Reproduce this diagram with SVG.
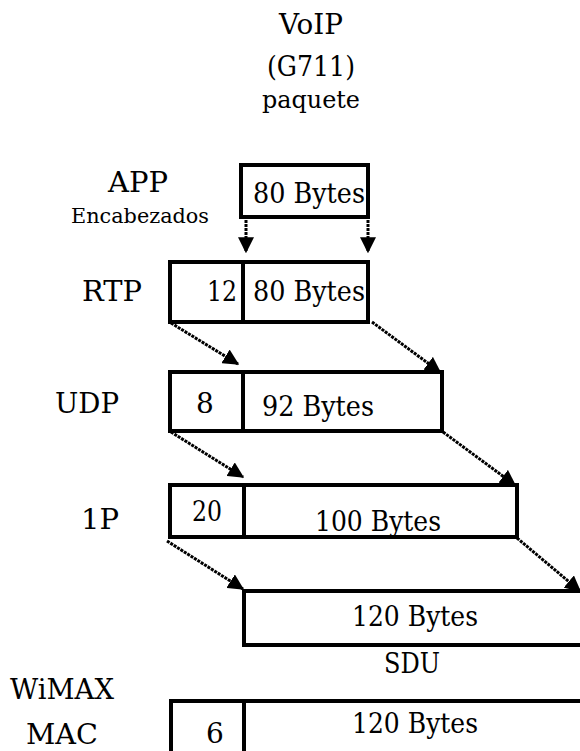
<svg xmlns="http://www.w3.org/2000/svg" width="580" height="751" viewBox="0 0 580 751" font-family="'DejaVu Serif', 'Liberation Serif', serif">
<defs>
<marker id="ah" viewBox="0 0 12 12" refX="11" refY="6" markerWidth="16" markerHeight="16" markerUnits="userSpaceOnUse" orient="auto">
<path d="M0,0 L12,6 L0,12 z" fill="#000"/>
</marker>
<style>
text{font-family:'DejaVu Serif','Liberation Serif',serif;fill:#000;}
.lb{font-size:28px;text-anchor:middle;}
.sm{font-size:24px;text-anchor:middle;}
.box{fill:#fff;stroke:#000;stroke-width:4;}
.div{stroke:#000;stroke-width:4;}
.con{stroke:#000;stroke-width:3;stroke-dasharray:3 1;fill:none;}
</style>
</defs>
<rect width="580" height="751" fill="#fff"/>
<g id="title">
<text class="lb" x="311" y="34" textLength="64" lengthAdjust="spacingAndGlyphs">VoIP</text>
<text class="lb" x="311" y="76" textLength="88" lengthAdjust="spacingAndGlyphs">(G711)</text>
<text class="sm" x="311" y="108" textLength="98" lengthAdjust="spacingAndGlyphs">paquete</text>
</g>
<g id="app">
<text class="lb" x="138" y="192" textLength="60" lengthAdjust="spacingAndGlyphs">APP</text>
<text x="140" y="223" style="font-size:21px;text-anchor:middle" textLength="138" lengthAdjust="spacingAndGlyphs">Encabezados</text>
<rect class="box" x="241" y="165" width="127" height="52"/>
<text class="lb" x="309" y="203" textLength="112" lengthAdjust="spacingAndGlyphs">80 Bytes</text>
</g>
<g id="rtp">
<text class="lb" x="112" y="301" textLength="60" lengthAdjust="spacingAndGlyphs">RTP</text>
<rect class="box" x="170" y="262" width="198" height="60"/>
<line class="div" x1="243" y1="262" x2="243" y2="322"/>
<text class="lb" x="237" y="301" style="text-anchor:end" textLength="30" lengthAdjust="spacingAndGlyphs">12</text>
<text class="lb" x="309" y="301" textLength="112" lengthAdjust="spacingAndGlyphs">80 Bytes</text>
</g>
<g id="udp">
<text class="lb" x="87" y="413" textLength="64" lengthAdjust="spacingAndGlyphs">UDP</text>
<rect class="box" x="170" y="372" width="272" height="59"/>
<line class="div" x1="243" y1="372" x2="243" y2="431"/>
<text class="lb" x="205" y="413">8</text>
<text class="lb" x="318" y="416" textLength="112" lengthAdjust="spacingAndGlyphs">92 Bytes</text>
</g>
<g id="ip">
<text class="lb" x="100" y="529" textLength="38" lengthAdjust="spacingAndGlyphs">1P</text>
<rect class="box" x="170" y="485" width="347" height="52"/>
<line class="div" x1="244" y1="485" x2="244" y2="537"/>
<text class="lb" x="207" y="521" textLength="30" lengthAdjust="spacingAndGlyphs">20</text>
<text class="lb" x="378" y="531" textLength="126" lengthAdjust="spacingAndGlyphs">100 Bytes</text>
</g>
<g id="sdu">
<rect class="box" x="244" y="591" width="350" height="54"/>
<text class="lb" x="415" y="626" textLength="126" lengthAdjust="spacingAndGlyphs">120 Bytes</text>
<text class="lb" x="412" y="673" textLength="56" lengthAdjust="spacingAndGlyphs">SDU</text>
</g>
<g id="mac">
<text class="lb" x="62" y="699" textLength="104" lengthAdjust="spacingAndGlyphs">WiMAX</text>
<text class="lb" x="62" y="744" textLength="72" lengthAdjust="spacingAndGlyphs">MAC</text>
<rect class="box" x="171" y="701" width="420" height="70"/>
<line class="div" x1="244" y1="701" x2="244" y2="751"/>
<text class="lb" x="215" y="743">6</text>
<text class="lb" x="415" y="733" textLength="126" lengthAdjust="spacingAndGlyphs">120 Bytes</text>
</g>
<g id="connectors">
<line class="con" x1="246" y1="220" x2="246" y2="252" marker-end="url(#ah)"/>
<line class="con" x1="368" y1="220" x2="368" y2="252" marker-end="url(#ah)"/>
<line class="con" x1="171" y1="323" x2="238" y2="364" marker-end="url(#ah)"/>
<line class="con" x1="372" y1="322" x2="440" y2="372" marker-end="url(#ah)"/>
<line class="con" x1="171" y1="432" x2="243" y2="477" marker-end="url(#ah)"/>
<line class="con" x1="443" y1="432" x2="515" y2="485" marker-end="url(#ah)"/>
<line class="con" x1="167" y1="541" x2="243" y2="589" marker-end="url(#ah)"/>
<line class="con" x1="517" y1="538" x2="580" y2="591" marker-end="url(#ah)"/>
</g>
</svg>
